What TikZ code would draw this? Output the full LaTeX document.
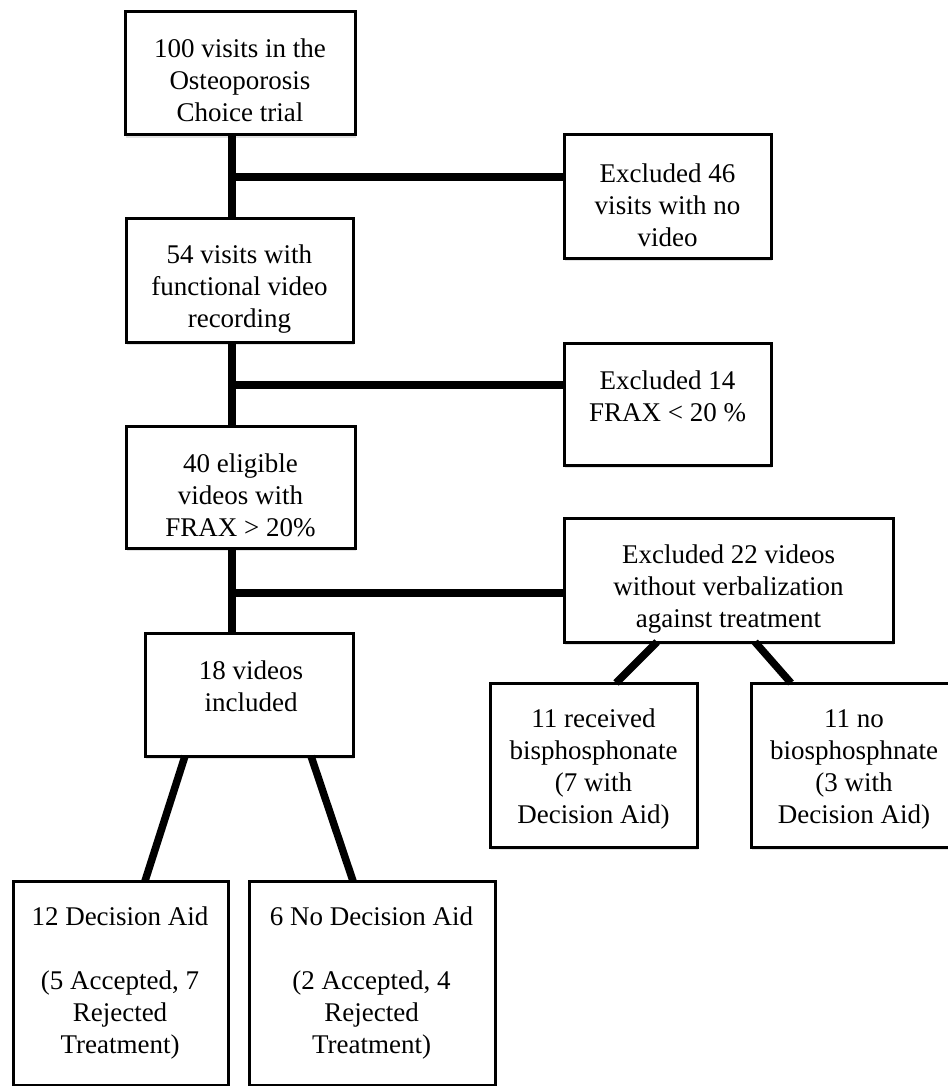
\documentclass[tikz,border=0pt]{standalone}
\usepackage{fontspec}
\setmainfont{Liberation Serif}
\usetikzlibrary{calc,shadows}
\begin{document}
\begin{tikzpicture}[x=1pt,y=-1pt,
  box/.style={draw=black, line width=3pt, fill=white, inner sep=0pt, outer sep=0pt,
    drop shadow={shadow xshift=0.5pt, shadow yshift=-3pt, opacity=0.22}},
  txt/.style={align=center, inner sep=0pt, font=\fontsize{27}{32}\selectfont},
  conn/.style={draw=black, line width=7.5pt}]
\useasboundingbox (0,0) rectangle (947,1086);
\fill[white] (0,0) rectangle (947,1086);
% boxes
\node[box, minimum width=230pt, minimum height=123pt] (b1) at (240,73.5) {};
\node[box, minimum width=207pt, minimum height=123pt] (e1) at (667.5,196.5) {};
\node[box, minimum width=227pt, minimum height=124pt] (b2) at (239.5,280) {};
\node[box, minimum width=207pt, minimum height=122pt] (e2) at (667.5,404) {};
\node[box, minimum width=229pt, minimum height=122pt] (b3) at (240.5,487) {};
\node[box, minimum width=329pt, minimum height=124pt] (e3) at (728.5,580) {};
\node[box, minimum width=208pt, minimum height=123pt] (b4) at (249,694.5) {};
\node[box, minimum width=207pt, minimum height=164pt] (r1) at (593.5,765) {};
\node[box, minimum width=204pt, minimum height=164pt] (r2) at (853,765) {};
\node[box, minimum width=215pt, minimum height=204pt] (d1) at (120.5,983) {};
\node[box, minimum width=246pt, minimum height=204pt] (d2) at (372,983) {};
% texts
\node[txt] (t1) at (240,80) {100 visits in the\\Osteoporosis\\Choice trial};
\node[txt] (te1) at (667.5,205) {Excluded 46\\visits with no\\video};
\node[txt] (t2) at (239.5,289) {54 visits with\\functional video\\recording};
\node[txt] (te2) at (667.5,396) {Excluded 14\\FRAX < 20 \%};
\node[txt] (t3) at (240.5,495) {40 eligible\\videos with\\FRAX > 20\%};
\node[txt] (te3) at (728.5,589) {Excluded 22 videos\\without verbalization\\against treatment};
\node[txt] (t4) at (251,686) {18 videos\\included};
\node[txt] (tr1) at (593.5,769) {11 received\\bisphosphonate\\(7 with\\Decision Aid)};
\node[txt] (tr2) at (854,769) {11 no\\biosphosphnate\\(3 with\\Decision Aid)};
\node[txt] (td1) at (120,983) {12 Decision Aid\\[32pt](5 Accepted, 7\\Rejected\\Treatment)};
\node[txt] (td2) at (371.5,983) {6 No Decision Aid\\[32pt](2 Accepted, 4\\Rejected\\Treatment)};
% trunk
\coordinate (tx) at (232,0);
\coordinate (j1) at (232,177);
\coordinate (j2) at (232,385);
\coordinate (j3) at (232,593);
\draw[conn] (b1.south -| tx) -- (b2.north -| tx);
\draw[conn] (b2.south -| tx) -- (b3.north -| tx);
\draw[conn] (b3.south -| tx) -- (b4.north -| tx);
\draw[conn] (j1) -- (j1 -| e1.west);
\draw[conn] (j2) -- (j2 -| e2.west);
\draw[conn] (j3) -- (j3 -| e3.west);
% diagonals
\draw[conn] ([xshift=93pt]e3.south west) -- ([xshift=126pt]r1.north west);
\draw[conn] ([xshift=191pt]e3.south west) -- ([xshift=40pt]r2.north west);
\draw[conn] ([xshift=40pt]b4.south west) -- ([xshift=132pt]d1.north west);
\draw[conn] ([xshift=166pt]b4.south west) -- ([xshift=104pt]d2.north west);
\end{tikzpicture}
\end{document}
